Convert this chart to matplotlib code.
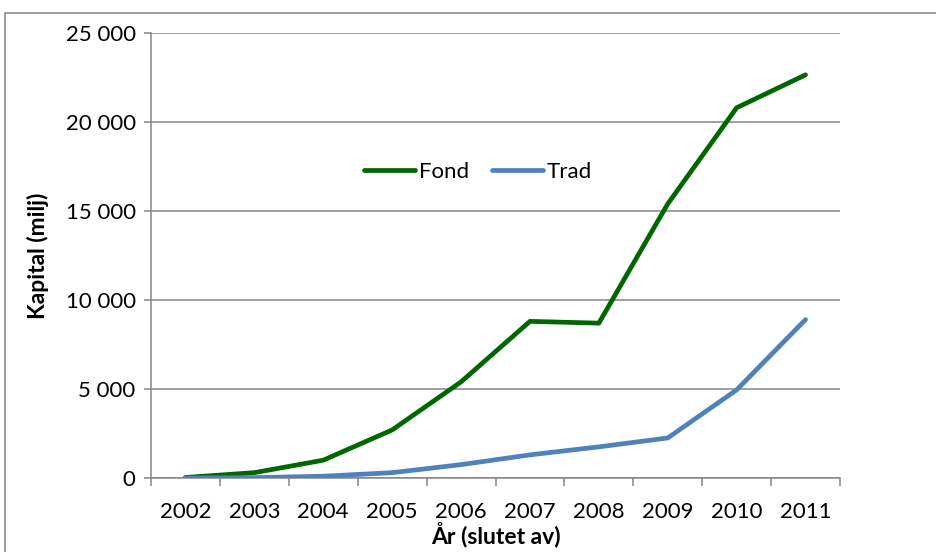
import matplotlib
matplotlib.use('Agg')
import matplotlib.pyplot as plt
from matplotlib.patches import Rectangle
from matplotlib.ticker import FuncFormatter, MultipleLocator

# Kapital per år (milj)
years = ['2002', '2003', '2004', '2005', '2006', '2007', '2008', '2009', '2010', '2011']
fond = [30, 300, 1000, 2700, 5400, 8800, 8700, 15400, 20800, 22650]
trad = [0, 20, 100, 300, 750, 1300, 1750, 2250, 4950, 8900]

plt.rcParams['font.family'] = ['Lato', 'DejaVu Sans']

GRID = '#868686'

fig = plt.figure(figsize=(9.36, 5.52), dpi=100)
ax = fig.add_axes([151 / 936, 74 / 552, 689 / 936, 445 / 552])

# ram runt diagrammet
fig.patches.append(Rectangle((4.5 / 936, -0.1), 1.2, 0.1 + (552 - 13) / 552,
                             transform=fig.transFigure, fill=False,
                             edgecolor='#8c8c8c', linewidth=1.2, zorder=0))

x = list(range(len(years)))
ax.plot(x, fond, color='#006600', linewidth=3.4, solid_capstyle='round',
        solid_joinstyle='round', label='Fond', zorder=3)
ax.plot(x, trad, color='#4f81bd', linewidth=3.4, solid_capstyle='round',
        solid_joinstyle='round', label='Trad', zorder=3)

ax.set_xlim(-0.5, len(years) - 0.5)
ax.set_ylim(0, 25000)
ax.yaxis.set_major_locator(MultipleLocator(5000))
ax.yaxis.set_major_formatter(FuncFormatter(lambda v, p: f'{int(v):,}'.replace(',', ' ')))
ax.grid(axis='y', color=GRID, linewidth=1.1)
ax.set_axisbelow(True)

ax.set_xticks(x)
ax.set_xticklabels(years)
ax.set_xticks([i - 0.5 for i in range(len(years) + 1)], minor=True)
ax.tick_params(axis='x', which='major', length=0, pad=17, labelsize=16)
ax.tick_params(axis='x', which='minor', length=6, color=GRID, width=1.1, direction='out')
ax.tick_params(axis='y', length=5, color=GRID, width=1.1, labelsize=16, pad=6)

for side in ('top', 'right'):
    ax.spines[side].set_visible(False)
for side in ('left', 'bottom'):
    ax.spines[side].set_color(GRID)
    ax.spines[side].set_linewidth(1.1)

ax.set_xlabel('År (slutet av)', fontsize=16.5, fontweight='bold', labelpad=0)
ax.set_ylabel('Kapital (milj)', fontsize=16.5, fontweight='bold', labelpad=12)

ax.legend(loc='center', bbox_to_anchor=(478 / 936, (552 - 172) / 552),
          bbox_transform=fig.transFigure, ncol=2, frameon=False, fontsize=16,
          handlelength=2.3, handletextpad=0.2, columnspacing=1.0)

fig.savefig('out.png', dpi=100)
